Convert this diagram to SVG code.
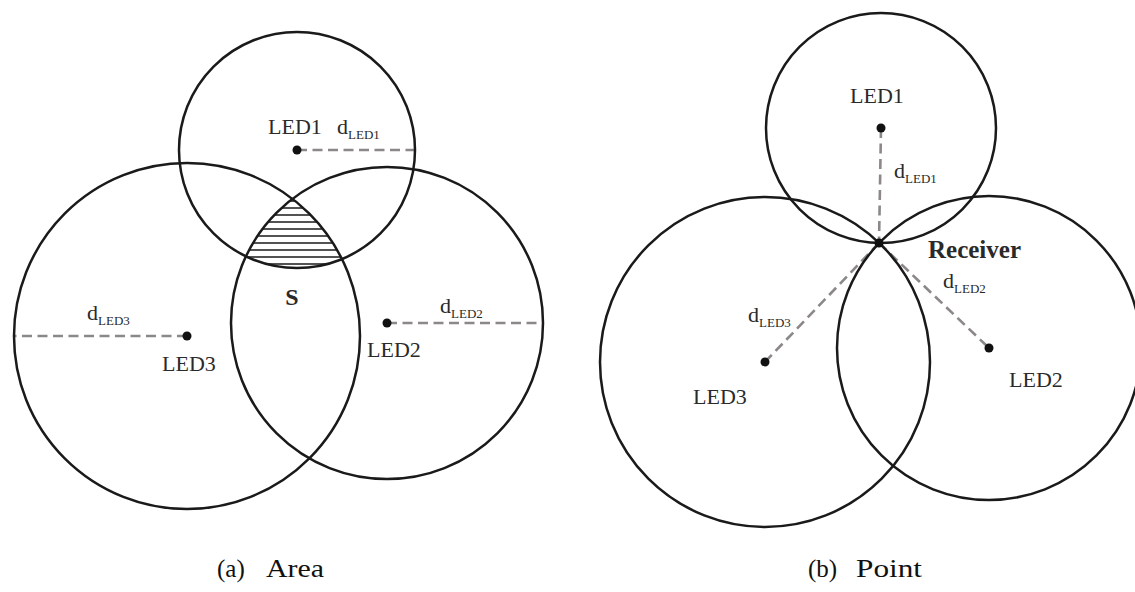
<svg xmlns="http://www.w3.org/2000/svg" width="1135" height="592" viewBox="0 0 1135 592">
<style>
.c{fill:none;stroke:#1a1a1a;stroke-width:2.5}
.d{fill:none;stroke:#8c8888;stroke-width:2.6;stroke-dasharray:10 5.5}
.h{stroke:#1a1a1a;stroke-width:1.6}
.dot{fill:#111}
.t{font-family:"Liberation Serif","Times New Roman",serif;font-size:22px;fill:#2a2a2a}
.s{font-size:13px}
.b{font-family:"Liberation Serif","Times New Roman",serif;font-weight:bold;fill:#2a2a2a}
.cap{font-family:"Liberation Serif","Times New Roman",serif;font-size:25px;fill:#111}
</style>
<defs>
<clipPath id="k1"><circle cx="297" cy="150" r="118"/></clipPath>
<clipPath id="k2" clip-path="url(#k1)"><circle cx="387" cy="323" r="156"/></clipPath>
<clipPath id="k3" clip-path="url(#k2)"><circle cx="187" cy="336" r="173"/></clipPath>
</defs>
<rect width="1135" height="592" fill="#fff"/>
<g id="connectors">
<line class="d" x1="297" y1="150" x2="415" y2="150"/>
<line class="d" x1="187" y1="336" x2="14" y2="336"/>
<line class="d" x1="387" y1="323" x2="543" y2="323"/>
<line class="d" x1="881" y1="128" x2="879" y2="243"/>
<line class="d" x1="879" y1="243" x2="989" y2="348"/>
<line class="d" x1="879" y1="243" x2="765" y2="362"/>
</g>
<g id="area-S">
<g clip-path="url(#k3)">
<line class="h" x1="200" y1="201" x2="400" y2="201"/>
<line class="h" x1="200" y1="208" x2="400" y2="208"/>
<line class="h" x1="200" y1="215" x2="400" y2="215"/>
<line class="h" x1="200" y1="222" x2="400" y2="222"/>
<line class="h" x1="200" y1="229" x2="400" y2="229"/>
<line class="h" x1="200" y1="236" x2="400" y2="236"/>
<line class="h" x1="200" y1="243" x2="400" y2="243"/>
<line class="h" x1="200" y1="250" x2="400" y2="250"/>
<line class="h" x1="200" y1="257" x2="400" y2="257"/>
<line class="h" x1="200" y1="264" x2="400" y2="264"/>
</g>
<text class="b" x="292" y="305" font-size="24" text-anchor="middle">S</text>
</g>
<g id="a-led1">
<circle class="c" cx="297" cy="150" r="118"/>
<circle class="dot" cx="297" cy="150" r="4.5"/>
<text class="t" x="268" y="134">LED1</text>
<text class="t" x="337" y="134">d<tspan class="s" dy="5">LED1</tspan></text>
</g>
<g id="a-led2">
<circle class="c" cx="387" cy="323" r="156"/>
<circle class="dot" cx="387" cy="323" r="4.5"/>
<text class="t" x="367" y="357">LED2</text>
<text class="t" x="440" y="313">d<tspan class="s" dy="5">LED2</tspan></text>
</g>
<g id="a-led3">
<circle class="c" cx="187" cy="336" r="173"/>
<circle class="dot" cx="187" cy="336" r="4.5"/>
<text class="t" x="162" y="371">LED3</text>
<text class="t" x="87" y="320">d<tspan class="s" dy="5">LED3</tspan></text>
</g>
<g id="b-led1">
<circle class="c" cx="881" cy="128" r="115"/>
<circle class="dot" cx="881" cy="128" r="4.5"/>
<text class="t" x="877" y="103" text-anchor="middle">LED1</text>
<text class="t" x="894" y="178">d<tspan class="s" dy="5">LED1</tspan></text>
</g>
<g id="b-led2">
<circle class="c" cx="989" cy="348" r="152"/>
<circle class="dot" cx="989" cy="348" r="4.5"/>
<text class="t" x="1009" y="387">LED2</text>
<text class="t" x="943" y="288">d<tspan class="s" dy="5">LED2</tspan></text>
</g>
<g id="b-led3">
<circle class="c" cx="765" cy="362" r="165"/>
<circle class="dot" cx="765" cy="362" r="4.5"/>
<text class="t" x="693" y="404">LED3</text>
<text class="t" x="748" y="322">d<tspan class="s" dy="5">LED3</tspan></text>
</g>
<g id="receiver">
<circle class="dot" cx="879" cy="243" r="4.5"/>
<text class="b" x="928" y="258" font-size="25">Receiver</text>
</g>
<g id="captions">
<text class="cap" x="217" y="577">(a)<tspan x="266" textLength="58" lengthAdjust="spacingAndGlyphs">Area</tspan></text>
<text class="cap" x="808" y="577">(b)<tspan x="856" textLength="66" lengthAdjust="spacingAndGlyphs">Point</tspan></text>
</g>
</svg>
